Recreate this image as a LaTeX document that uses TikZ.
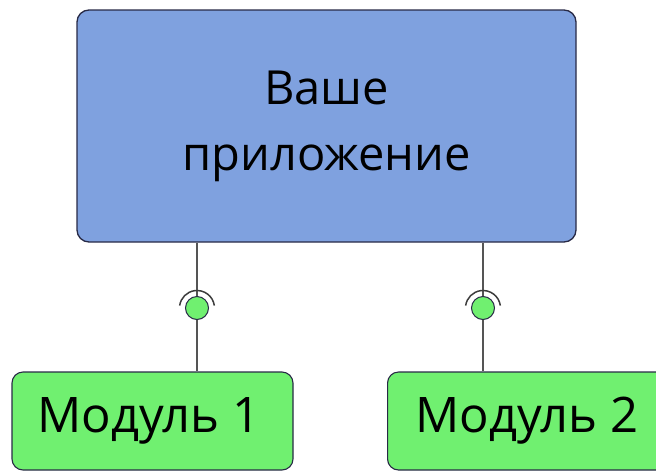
\documentclass[tikz,border=0pt]{standalone}
\usepackage{fontspec}
\setmainfont{Open Sans}
\definecolor{appfill}{RGB}{127,161,223}
\definecolor{appdraw}{RGB}{40,42,70}
\definecolor{modfill}{RGB}{112,240,112}
\definecolor{linegray}{RGB}{85,85,85}
\tikzset{
  appbox/.style={draw=appdraw, line width=1.3pt, fill=appfill, rounded corners=12pt, minimum width=499pt, minimum height=232pt, align=center, inner sep=0pt, font=\fontsize{47}{66}\selectfont},
  modbox/.style={draw=appdraw, line width=1.1pt, fill=modfill, rounded corners=11pt, minimum height=98pt, inner sep=0pt},
  modtext/.style={inner sep=0pt, font=\fontsize{49}{60}\selectfont},
  ball/.style={circle, draw=appdraw, line width=1pt, fill=modfill, minimum size=23pt, inner sep=0pt},
  wire/.style={draw=linegray, line width=1.5pt},
  socket/.style={draw=linegray!70!black, line width=1.5pt}
}
\begin{document}
\begin{tikzpicture}[x=1pt,y=-1pt]
\useasboundingbox (0,0) rectangle (656,472);
\clip (0,0) rectangle (656,472);
\node[appbox] (app) at (326.5,126) {Ваше\\приложение};
\node[modbox, minimum width=281pt] (m1) at (152.5,421) {};
\node[modtext] (m1t) at (149,421) {Модуль 1};
\node[modbox, minimum width=290pt, anchor=west] (m2) at (387,421) {};
\node[modtext, anchor=west] (m2t) at (415,421) {Модуль 2};
\node[ball] (b1) at (197,308) {};
\node[ball] (b2) at (483,308) {};
\path[wire] (app.south -| b1) -- (b1.north);
\path[wire] (b1.south) -- (m1.north -| b1);
\path[wire] (app.south -| b2) -- (b2.north);
\path[wire] (b2.south) -- (m2.north -| b2);
\draw[socket] (b1.center) ++(-8:17.5) arc[start angle=-8, end angle=-172, radius=17.5];
\draw[socket] (b2.center) ++(-8:17.5) arc[start angle=-8, end angle=-172, radius=17.5];
\end{tikzpicture}
\end{document}
